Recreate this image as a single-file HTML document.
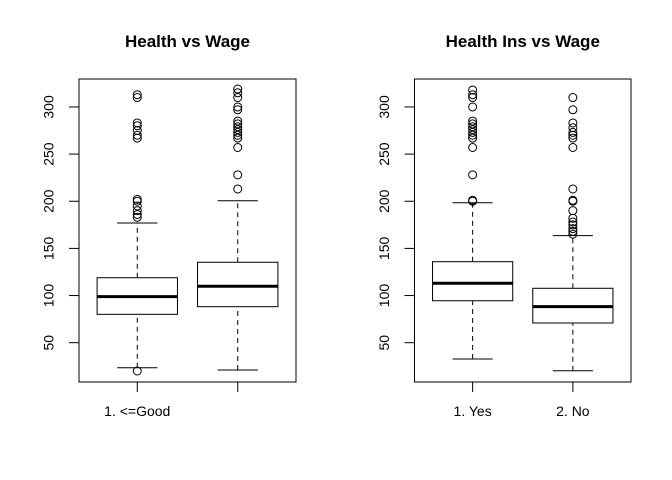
<!DOCTYPE html>
<html><head><meta charset="utf-8"><style>body{margin:0;background:#fff}svg{display:block;font-family:"Liberation Sans",sans-serif}</style></head>
<body>
<svg id="chart" width="672" height="480" viewBox="0 0 672 480" xmlns="http://www.w3.org/2000/svg"></svg>
<script>
const panelTitles = ["Health vs Wage", "Health Ins vs Wage"];
const categoriesLeft = ["1. <=Good", "2. >=Very Good"];
const shownLabelsLeft = ["1. <=Good", ""];
const categoriesRight = ["1. Yes", "2. No"];
const yTicks = [50, 100, 150, 200, 250, 300];
// stats: [lowWhisker, Q1, median, Q3, highWhisker]
const statsLeft = [[23.5, 80.1, 98.8, 118.9, 177], [21, 88.2, 109.8, 135.3, 200.5]];
const statsRight = [[32.7, 94.5, 113, 135.9, 198.4], [20.3, 70.9, 88.2, 107.7, 163.5]];
const outliersLeft = [
  [20, 183, 186, 190, 195, 200, 202, 267, 270, 275, 280, 283, 310, 313],
  [213, 228, 257, 267, 270, 273, 276, 279, 282, 285, 297, 300, 310, 315, 319]
];
const outliersRight = [
  [200, 201, 228, 257, 267, 270, 273, 276, 279, 282, 285, 300, 310, 313, 318],
  [165, 168, 171, 175, 178, 182, 190, 200, 201, 213, 257, 267, 270, 273, 278, 283, 297, 310]
];

const svg = document.getElementById('chart');
const NS = 'http://www.w3.org/2000/svg';
function mk(tag, attrs, parent) {
  const e = document.createElementNS(NS, tag);
  for (const k in attrs) e.setAttribute(k, attrs[k]);
  (parent || svg).appendChild(e);
  return e;
}
const yScale = v => 342.7 - (v - 50) * 0.943;
const plotTop = 79, plotBottom = 382;

function panel(x0, x1, title, labels, stats, outs, key) {
  const g = mk('g', {});
  
  
  const n = labels.length;
  const lo = 0.5 - 0.04 * n, hi = n + 0.5 + 0.04 * n;
  const unit = (x1 - x0) / (hi - lo);
  const xScale = i => x0 + (i + 1 - lo) * unit;
  const t = mk('text', {x: (x0 + x1) / 2, y: 47, 'font-size': 17, 'font-weight': 'bold', 'text-anchor': 'middle'}, g);
  t.textContent = title;
  
  
  const fr = mk('rect', {x: x0, y: plotTop, width: x1 - x0, height: plotBottom - plotTop, fill: 'none', stroke: '#000', 'stroke-width': 1}, g);
  
  
  const ya = mk('g', {}, g);
  
  
  mk('line', {x1: x0, x2: x0, y1: yScale(yTicks[0]), y2: yScale(yTicks[yTicks.length - 1]), stroke: '#000'}, ya);
  yTicks.forEach(v => {
    const y = yScale(v);
    mk('line', {x1: x0 - 10, x2: x0, y1: y, y2: y, stroke: '#000'}, ya);
    const lt = mk('text', {x: 0, y: 0, 'font-size': 14, 'text-anchor': 'middle', transform: `translate(${x0 - 25.5},${y}) rotate(-90)`}, ya);
    lt.textContent = v;
    
    
  });
  const xa = mk('g', {}, g);
  
  
  mk('line', {x1: xScale(0), x2: xScale(n - 1), y1: plotBottom, y2: plotBottom, stroke: '#000'}, xa);
  labels.forEach((lab, i) => {
    mk('line', {x1: xScale(i), x2: xScale(i), y1: plotBottom, y2: plotBottom + 10, stroke: '#000'}, xa);
    const lt = mk('text', {x: xScale(i), y: 416, 'font-size': 14, 'text-anchor': 'middle'}, xa);
    lt.textContent = lab;
    
    
  });
  stats.forEach((s, i) => {
    const cx = xScale(i), hw = 0.4 * unit, cap = 0.2 * unit;
    const b = mk('g', {}, g);
    
    
    mk('line', {x1: cx, x2: cx, y1: yScale(s[0]), y2: yScale(s[1]), stroke: '#000', 'stroke-dasharray': '5,4'}, b);
    mk('line', {x1: cx, x2: cx, y1: yScale(s[3]), y2: yScale(s[4]), stroke: '#000', 'stroke-dasharray': '5,4'}, b);
    mk('line', {x1: cx - cap, x2: cx + cap, y1: yScale(s[0]), y2: yScale(s[0]), stroke: '#000'}, b);
    mk('line', {x1: cx - cap, x2: cx + cap, y1: yScale(s[4]), y2: yScale(s[4]), stroke: '#000'}, b);
    mk('rect', {x: cx - hw, y: yScale(s[3]), width: 2 * hw, height: yScale(s[1]) - yScale(s[3]), fill: '#fff', stroke: '#000'}, b);
    mk('line', {x1: cx - hw, x2: cx + hw, y1: yScale(s[2]), y2: yScale(s[2]), stroke: '#000', 'stroke-width': 3}, b);
    outs[i].forEach(v => {
      const c = mk('circle', {cx: cx, cy: yScale(v), r: 4, fill: 'none', stroke: '#000'}, b);
      
      
    });
  });
}
panel(79, 296, panelTitles[0], shownLabelsLeft, statsLeft, outliersLeft, 'health');
panel(414.5, 631, panelTitles[1], categoriesRight, statsRight, outliersRight, 'health-ins');
</script>
</body></html>
